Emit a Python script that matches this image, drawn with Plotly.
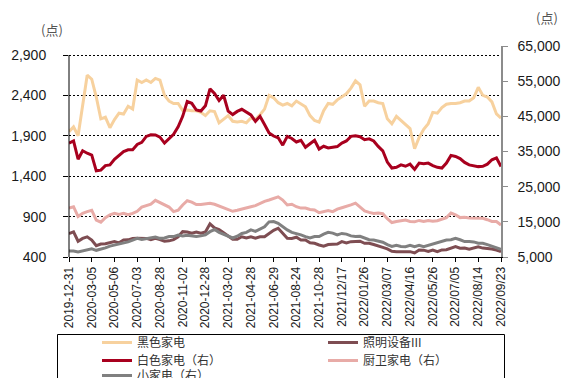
import plotly.graph_objects as go

# Trading-day axis labels (one label every 5 samples)
date_labels = [
    "2019-12-31", "2020-03-05", "2020-05-06", "2020-07-03", "2020-08-28",
    "2020-11-02", "2020-12-28", "2021-03-02", "2021-04-28", "2021-06-29",
    "2021-08-24", "2021-10-28", "2021/12/17", "2022/01/26", "2022/03/07",
    "2022/04/16", "2022/05/26", "2022/07/05", "2022/08/14", "2022/09/23",
]
samples_per_label = 5

# Left axis (points)
black_appliance = [
    1950, 2010, 1900, 2300, 2650, 2600, 2380, 2110, 2130, 2000, 2100, 2180, 2170, 2265, 2230, 2590,
    2560, 2590, 2560, 2610, 2590, 2400, 2330, 2300, 2300, 2215, 2220, 2210, 2210, 2190, 2150, 2210,
    2200, 2060, 2100, 2150, 2080, 2070, 2080, 2060, 2120, 2100, 2160, 2230, 2400, 2370, 2310, 2280,
    2300, 2270, 2330, 2300, 2260, 2150, 2090, 2070, 2210, 2300, 2290, 2345, 2380, 2420, 2490, 2580,
    2530, 2265, 2330, 2330, 2310, 2300, 2110, 2050, 2140, 2090, 2030, 1990, 1740, 1880, 1980, 2050,
    2190, 2180, 2250, 2290, 2300, 2300, 2310, 2330, 2330, 2370, 2500, 2400, 2380, 2320, 2170, 2120,
]
lighting = [
    690, 710, 595, 630, 650, 610, 540, 560, 565, 575, 590, 575, 610, 612, 630, 632,
    632, 630, 615, 630, 615, 595, 600, 615, 650, 714, 710, 694, 710, 694, 710, 810,
    760, 740, 700, 660, 620, 620, 650, 635, 650, 632, 650, 650, 694, 730, 756, 690,
    632, 630, 645, 611, 611, 575, 570, 549, 535, 555, 560, 560, 590, 575, 590, 590,
    595, 570, 570, 555, 540, 520, 500, 470, 466, 470, 466, 466, 450, 487, 485, 470,
    487, 466, 487, 490, 508, 528, 508, 510, 495, 508, 525, 510, 508, 500, 487, 466,
]

# Right axis (points)
white_appliance = [
    37400, 38000, 32800, 35200, 34500, 34000, 29500, 29700, 31000, 31200, 32800, 33800, 35000, 35500, 35500, 37000,
    37600, 39280, 39770, 39700, 39100, 37400, 38800, 39900, 42000, 45000, 49200, 48700, 46800, 46500, 48000, 52800,
    51500, 49500, 51000, 46500, 45500, 46400, 47000, 46300, 45400, 43600, 45000, 42700, 40300, 39400, 38900, 36800,
    39300, 38700, 37700, 38200, 36200, 37200, 38200, 35700, 36500, 36000, 36300, 36400, 37400, 38000, 39300, 39500,
    39200, 38350, 38600, 38000, 36440, 35200, 32000, 30300, 30500, 31200, 30800, 31400, 29900, 31700, 31500, 31700,
    31000, 30500, 30300, 31700, 33900, 33600, 33000, 31900, 31200, 31000, 30700, 30800, 31400, 32650, 33200, 30740,
]
kitchen_bath = [
    18900, 19300, 16500, 17450, 17900, 18300, 15500, 14900, 16200, 17000, 17400, 17100, 17400, 17000, 17400, 18000,
    19200, 19600, 20000, 21100, 20500, 19900, 19200, 17900, 18300, 19800, 21000, 20600, 19900, 19900, 20200, 20300,
    20000, 19500, 19100, 18700, 18000, 18300, 18700, 19000, 19300, 19600, 20300, 20800, 21200, 21700, 22100, 21200,
    19800, 20000, 19300, 18900, 18900, 18500, 18400, 17600, 17800, 18200, 17900, 18600, 19000, 19300, 19800, 20300,
    19100, 18100, 17700, 17400, 17500, 17300, 15900, 14800, 15100, 15200, 15500, 15100, 15000, 15400, 15100, 15400,
    15200, 15300, 15800, 16200, 17500, 17000, 16200, 16300, 16100, 16000, 16000, 16000, 15600, 15100, 15100, 14100,
]
small_appliance = [
    6700, 6700, 6400, 6700, 6800, 7300, 6900, 7200, 7600, 8100, 8400, 8500, 8900, 9300, 9800, 10300,
    10000, 10300, 10600, 10700, 10300, 10400, 10800, 10800, 11270, 11000, 11200, 10900, 10800, 11000, 11300, 12200,
    12800, 12000, 11500, 11000, 10400, 10900, 11700, 12000, 12700, 12300, 13000, 13600, 15000, 15100, 14600, 13600,
    12700, 12000, 11700, 11300, 10800, 10400, 10800, 10800, 11500, 12000, 11800, 11300, 11700, 11500, 11000, 10800,
    10900, 10330, 9900, 9850, 9600, 9200, 8500, 8000, 8300, 8000, 7940, 8300, 7900, 8300, 7940, 8300,
    8700, 9100, 9500, 9850, 9900, 10300, 9900, 9400, 9400, 9300, 8900, 8900, 8500, 8000, 7700, 7200,
]

left_ticks = [400, 900, 1400, 1900, 2400, 2900]
right_ticks = [5000, 15000, 25000, 35000, 45000, 55000, 65000]

x = list(range(len(black_appliance)))
tick_positions = [i * samples_per_label for i in range(len(date_labels))]

# name, values, y-axis, colour, legend row
series = [
    ("黑色家电", black_appliance, "y", "#F7D19E", "legend"),
    ("照明设备III", lighting, "y", "#7E4D52", "legend"),
    ("白色家电（右）", white_appliance, "y2", "#A8001E", "legend2"),
    ("厨卫家电（右）", kitchen_bath, "y2", "#E8ABA7", "legend2"),
    ("小家电（右）", small_appliance, "y2", "#808080", "legend3"),
]

fig = go.Figure()
for name, vals, axis, color, leg in series:
    fig.add_trace(go.Scatter(
        x=x, y=vals, name=name, yaxis=axis, mode="lines",
        line=dict(color=color, width=3), legend=leg,
    ))

tick_font = dict(family="Liberation Sans, Arial, sans-serif", size=14, color="#1a1a1a")

# plot area spans x 69..501 px and y 46..257 px; helpers for paper coordinates
plot_w, plot_h = 432, 211
def px_x(px):
    return (px - 69) / plot_w
def px_y(py):
    return (257 - py) / plot_h

def legend_row(top_px):
    return dict(
        orientation="h", xref="paper", yref="paper",
        x=px_x(57), xanchor="left", y=px_y(top_px), yanchor="top",
        borderwidth=0, bgcolor="rgba(0,0,0,0)",
        indentation=40, entrywidth=141, entrywidthmode="pixels",
        font=dict(family="Noto Sans CJK SC", size=12, color="#333"),
        traceorder="normal",
    )

fig.update_layout(
    width=563, height=378,
    margin=dict(l=69, r=62, t=46, b=121, autoexpand=False),
    paper_bgcolor="white", plot_bgcolor="white",
    showlegend=True,
    legend=legend_row(328),
    legend2=legend_row(346),
    legend3=legend_row(361),
    xaxis=dict(
        range=[0, len(black_appliance) - 1],
        tickmode="array", tickvals=tick_positions, ticktext=date_labels,
        tickangle=-90, ticks="outside", ticklen=4, tickcolor="black",
        showline=True, linecolor="black", linewidth=1,
        showgrid=False, zeroline=False,
        tickfont=dict(family="Liberation Sans, Arial, sans-serif", size=12, color="#1a1a1a"),
    ),
    yaxis=dict(
        range=[400, 400 + 211 * 2500 / 202],
        tickmode="array", tickvals=left_ticks, tickformat=",",
        ticks="outside", ticklen=5, tickcolor="black",
        showline=False, showgrid=True, gridcolor="black", gridwidth=1,
        griddash="2px,2px", zeroline=False,
        ticklabelstandoff=14,
        tickfont=tick_font,
    ),
    yaxis2=dict(
        overlaying="y", side="right", anchor="x",
        range=[5000, 65000],
        tickmode="array", tickvals=right_ticks, tickformat=",",
        ticks="outside", ticklen=5, tickcolor="#8c8c8c",
        showline=True, linecolor="#8c8c8c", linewidth=1.5,
        showgrid=False, zeroline=False,
        ticklabelstandoff=7,
        tickfont=tick_font,
    ),
    annotations=[
        dict(text="(点)", xref="paper", yref="paper", x=-0.04, y=1.076,
             xanchor="center", yanchor="middle", showarrow=False,
             font=dict(family="Noto Sans CJK SC", size=13, color="#555")),
        dict(text="(点)", xref="paper", yref="paper", x=1.106, y=1.133,
             xanchor="center", yanchor="middle", showarrow=False,
             font=dict(family="Noto Sans CJK SC", size=13, color="#555")),
    ],
    shapes=[
        # left axis line, drawn only up to the top tick
        dict(type="line", xref="paper", yref="y", x0=0, x1=0, y0=400, y1=2900,
             line=dict(color="black", width=1), layer="above"),
        # legend frame (runs past the bottom edge)
        dict(type="rect", xref="paper", yref="paper",
             x0=px_x(57.5), x1=px_x(504.5), y0=px_y(334.5), y1=px_y(400),
             line=dict(color="black", width=1), fillcolor="rgba(0,0,0,0)",
             layer="below"),
    ],
)

fig.write_html("out.html")
